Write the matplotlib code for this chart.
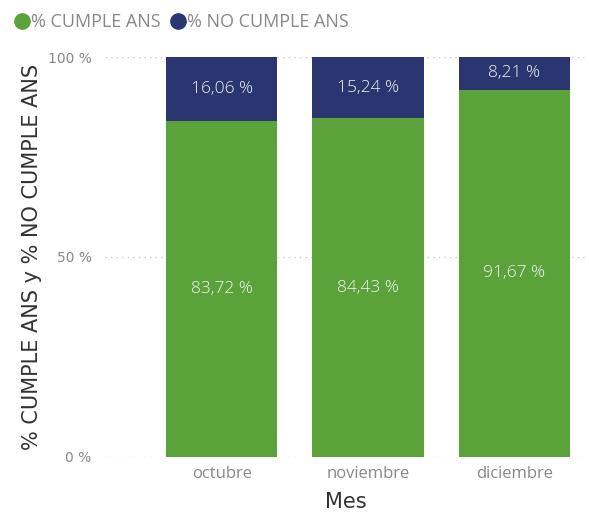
import matplotlib
matplotlib.use("Agg")
import matplotlib.pyplot as plt
from matplotlib.lines import Line2D

# data
meses = ["octubre", "noviembre", "diciembre"]
cumple = [83.72, 84.43, 91.67]
no_cumple = [16.06, 15.24, 8.21]

verde = "#5ba23b"
azul = "#2b3570"


def fmt(v):
    return "{:.2f} %".format(v).replace(".", ",")


fig = plt.figure(figsize=(5.89, 5.14), dpi=100)
ax = fig.add_axes([0.178, 0.111, 0.819, 0.778])

# 100% stacked: normalise each month to its total
tot = [a + b for a, b in zip(cumple, no_cumple)]
h_c = [a / t * 100 for a, t in zip(cumple, tot)]
h_n = [b / t * 100 for b, t in zip(no_cumple, tot)]
x = list(range(len(meses)))

ax.bar(x, h_c, width=0.76, color=verde, zorder=2)
ax.bar(x, h_n, width=0.76, bottom=h_c, color=azul, zorder=2)

for i in x:
    ax.text(i, h_c[i] / 2, fmt(cumple[i]), ha="center", va="center",
            color="#f4f4f4", fontsize=12.5, family="Open Sans", fontweight="light")
    ax.text(i, h_c[i] + h_n[i] / 2, fmt(no_cumple[i]), ha="center", va="center",
            color="#f4f4f4", fontsize=12.5, family="Open Sans", fontweight="light")

ax.set_xlim(-0.8, 2.5)
ax.set_ylim(0, 100)
ax.set_yticks([0, 50, 100])
ax.set_yticklabels(["0 %", "50 %", "100 %"])
ax.set_xticks(x)
ax.set_xticklabels(meses)
ax.tick_params(length=0, colors="#888888")
for lab in ax.get_xticklabels():
    lab.set_family("Open Sans")
    lab.set_fontsize(12)
for lab in ax.get_yticklabels():
    lab.set_family("DejaVu Sans")
    lab.set_fontsize(10)
ax.tick_params(axis="x", pad=6.5)
ax.tick_params(axis="y", pad=9.5)
ax.yaxis.grid(True, color="#cccccc", linestyle=(0, (1, 3)), linewidth=1, zorder=0)
for s in ax.spines.values():
    s.set_visible(False)

ax.set_ylabel("% CUMPLE ANS y % NO CUMPLE ANS", fontsize=15, color="#333333",
              family="DejaVu Sans", labelpad=4)
ax.set_xlabel("Mes", fontsize=15, color="#333333", family="DejaVu Sans", labelpad=7)

handles = [Line2D([], [], marker="o", linestyle="", color=verde, markersize=11),
           Line2D([], [], marker="o", linestyle="", color=azul, markersize=11)]
fig.legend(handles, ["% CUMPLE ANS", "% NO CUMPLE ANS"], loc="upper left",
           bbox_to_anchor=(-0.006, 1.006), ncol=2, frameon=False,
           handlelength=1.0, handletextpad=0.0, columnspacing=0.5, borderaxespad=0.5,
           prop={"family": "Open Sans", "size": 13}, labelcolor="#888888")

fig.savefig("out.png", dpi=100)
